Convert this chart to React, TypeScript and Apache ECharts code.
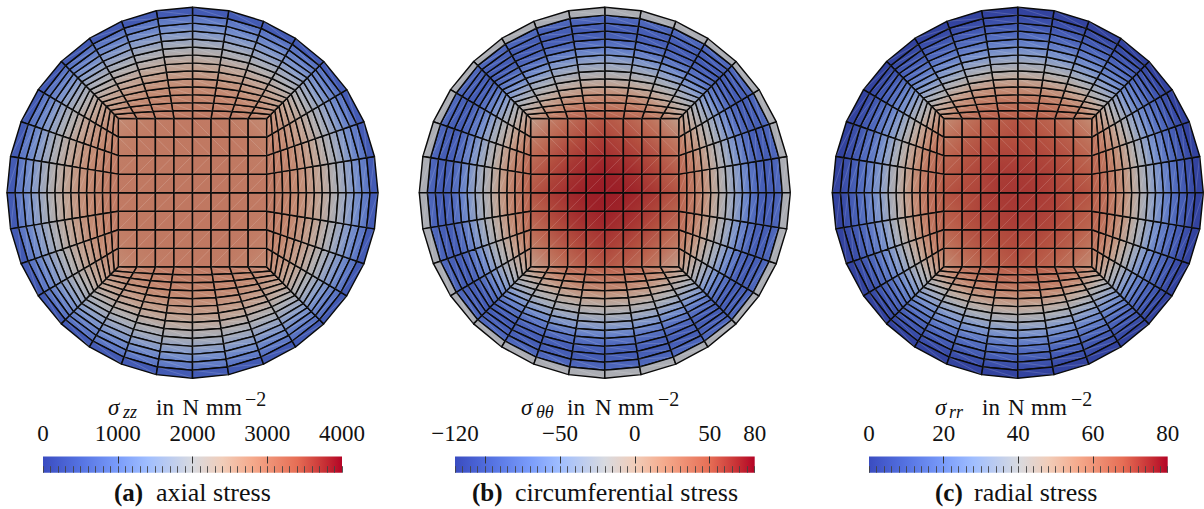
import React, { useEffect, useRef } from "react";
import * as echarts from "echarts";

// ---- colour bar stops (fraction, r, g, b), read from the legends
const colorStops = [
  [0, 58, 76, 192], [0.125, 85, 115, 226], [0.25, 122, 156, 250], [0.35, 160, 190, 255],
  [0.5, 216, 218, 224], [0.6, 241, 205, 185], [0.7, 245, 170, 140], [0.85, 230, 110, 85],
  [0.95, 196, 42, 50], [1, 180, 4, 38],
];

// ---- node values. Ring tables: one row per ring layer (square edge to next-to-rim),
// one column per node from the axis (0) to the diagonal (4). The picture has quarter symmetry.
const axialRing = [
  [2980, 2970, 2940, 2880, 2760], [2950, 2935, 2890, 2820, 2690], [2900, 2885, 2840, 2750, 2600],
  [2840, 2820, 2770, 2670, 2500], [2770, 2755, 2685, 2555, 2390], [2650, 2630, 2560, 2440, 2265],
  [2500, 2480, 2415, 2295, 2090], [2350, 2325, 2240, 2090, 1950], [2150, 2120, 2050, 1950, 1775],
  [1950, 1920, 1840, 1730, 1590], [1700, 1660, 1590, 1500, 1365], [1400, 1365, 1325, 1250, 1150],
  [1100, 1080, 1045, 985, 925], [850, 850, 825, 800, 765],
];
const axialRim = [470, 500];
const axialCentre = [[3010], [3010, 3005], [3000, 3000, 2995], [2990, 2990, 2985, 2965]];

const hoopRing = [
  [44, 42, 35, 25, 6], [36, 34, 28, 16, -3], [28, 26, 19, 4, -13], [18, 15, 6, -6, -22],
  [4, 2, -6, -17, -32], [-10, -12, -17, -28, -44], [-22, -24, -30, -41, -58], [-36, -39, -46, -58, -72],
  [-54, -56, -63, -72, -83], [-72, -74, -79, -86, -91], [-88, -89, -91, -94, -96], [-96, -96, -95, -94, -93],
  [-92, -92, -91, -90, -89], [-84, -84, -83, -83, -83],
];
const hoopRim = [-22, -20];
const hoopCentre = [[72], [71, 69], [65, 63, 58], [57, 55, 50, 38]];

const radialRing = [
  [67, 66, 64, 60, 55], [64, 63, 62, 58, 52], [62, 61, 59, 54, 47], [58, 57, 55, 51, 42],
  [54, 53, 51, 45, 37], [48, 47, 45, 41, 33], [42, 41, 40, 35, 29], [37, 36, 34, 29, 24],
  [30, 29, 27, 24, 20], [24, 23, 22, 19, 16], [18, 17, 16, 15, 12], [13, 12, 12, 11, 9],
  [8, 8, 7, 7, 6], [4, 4, 4, 3.5, 3],
];
const radialRim = [2.4, 1.6];
const radialCentre = [[73], [72.5, 72], [71, 71, 70], [70, 69, 68, 65]];

// ---- scales and tick labels of the three colour bars
const axialScale = [0, 4000];
const axialLabels = [0, 1000, 2000, 3000, 4000];
const axialMajor = [1000, 2000, 3000];
const axialMinorStep = 100;
const hoopScale = [-120, 80];
const hoopLabels = [-120, -50, 0, 50, 80];
const hoopMajor = [-100, -50, 0, 50];
const hoopMinorStep = 5;
const radialScale = [0, 80];
const radialLabels = [0, 20, 40, 60, 80];
const radialMajor = [20, 40, 60];
const radialMinorStep = 2;

// ---- texts
const symbols = ["σ", "σ", "σ"];
const subscripts = ["zz", "θθ", "rr"];
const captionTags = ["(a)", "(b)", "(c)"];
const captions = ["axial stress", "circumferential stress", "radial stress"];

// ---- mesh topology and layout
const CENTRE_DIV = 8, SECTORS = 32, LAYERS = 14, HALF = 0.4, R_PX = 185.5, SHADE = 0.8;
const SERIF = "'Liberation Serif', serif";

const panels = [
  { cx: 192.5, bar: [43, 342], ring: axialRing, rim: axialRim, centre: axialCentre, scale: axialScale, labels: axialLabels, major: axialMajor, step: axialMinorStep, t: [108, 123, 156, 182.5, 206, 245], cap: [114, 156] },
  { cx: 604.8, bar: [455, 754.7], ring: hoopRing, rim: hoopRim, centre: hoopCentre, scale: hoopScale, labels: hoopLabels, major: hoopMajor, step: hoopMinorStep, t: [521, 536, 567, 595, 618, 658], cap: [472, 515] },
  { cx: 1017.8, bar: [869, 1167.7], ring: radialRing, rim: radialRim, centre: radialCentre, scale: radialScale, labels: radialLabels, major: radialMajor, step: radialMinorStep, t: [935, 949, 982, 1008, 1031, 1071], cap: [935, 974] },
];
const CY = 192.7;

function colourAt(f: number, shade: number) {
  const x = Math.max(0, Math.min(1, f));
  let i = 0;
  while (i < colorStops.length - 2 && x > colorStops[i + 1][0]) i++;
  const a = colorStops[i], b = colorStops[i + 1];
  const u = (x - a[0]) / (b[0] - a[0]);
  const c = [1, 2, 3].map((n) => Math.round((a[n] + (b[n] - a[n]) * u) * shade));
  return `rgb(${c[0]},${c[1]},${c[2]})`;
}

function rimNode(s: number) {
  const a = (s * Math.PI * 2) / SECTORS;
  return [Math.cos(a), Math.sin(a)];
}
function edgeNode(s: number) {
  const m = ((s % SECTORS) + SECTORS) % SECTORS;
  const face = Math.floor((m + 4) / 8) % 4;
  const t = (((m + 4) % 8) - 4) / 4;
  if (face === 0) return [HALF, HALF * t];
  if (face === 1) return [-HALF * t, HALF];
  if (face === 2) return [-HALF, -HALF * t];
  return [HALF * t, -HALF];
}
function ringNode(k: number, s: number) {
  const p = edgeNode(s), q = rimNode(s), u = k / LAYERS;
  return [p[0] + (q[0] - p[0]) * u, p[1] + (q[1] - p[1]) * u];
}
function column(s: number) {
  const j = ((s % 8) + 8) % 8;
  return j > 4 ? 8 - j : j;
}

function meshSeries(panelIndex: number) {
  const p = panels[panelIndex];
  const f = (v: number) => (v - p.scale[0]) / (p.scale[1] - p.scale[0]);
  const data: number[][] = [];
  for (let i = 0; i < CENTRE_DIV; i++) for (let j = 0; j < CENTRE_DIV; j++) data.push([0, i, j]);
  for (let k = 0; k < LAYERS; k++) for (let s = 0; s < SECTORS; s++) data.push([1, k, s]);

  const centreValue = (i: number, j: number) => {
    const x = Math.abs(i - 4), y = Math.abs(j - 4);
    const a = Math.max(x, y), b = Math.min(x, y);
    return a === 4 ? p.ring[0][b] : p.centre[a][b];
  };

  return {
    type: "custom",
    xAxisIndex: panelIndex,
    yAxisIndex: panelIndex,
    coordinateSystem: "cartesian2d",
    silent: true,
    clip: false,
    progressive: 0,
    z: 3,
    data,
    renderItem: (_: any, api: any) => {
      const kind = api.value(0), a = api.value(1), b = api.value(2);
      let nodes: number[][];
      let g0: number[], g1: number[], v0: number, v1: number;
      if (kind === 0) {
        const unit = (2 * HALF) / CENTRE_DIV;
        const xy = (i: number, j: number) => api.coord([-HALF + i * unit, -HALF + j * unit]);
        nodes = [xy(a, b), xy(a + 1, b), xy(a + 1, b + 1), xy(a, b + 1)];
        const ids = [[a, b], [a + 1, b], [a + 1, b + 1], [a, b + 1]];
        const vals = ids.map((d) => centreValue(d[0], d[1]));
        const lo = vals.indexOf(Math.min(...vals)), hi = vals.indexOf(Math.max(...vals));
        g0 = nodes[lo]; g1 = nodes[hi]; v0 = vals[lo]; v1 = vals[hi];
        if (lo === hi) { g1 = nodes[(lo + 2) % 4]; v1 = v0; }
      } else {
        const xy = (k: number, s: number) => { const n = ringNode(k, s); return api.coord(n); };
        nodes = [xy(a, b), xy(a, b + 1), xy(a + 1, b + 1), xy(a + 1, b)];
        g0 = [(nodes[0][0] + nodes[1][0]) / 2, (nodes[0][1] + nodes[1][1]) / 2];
        g1 = [(nodes[2][0] + nodes[3][0]) / 2, (nodes[2][1] + nodes[3][1]) / 2];
        const row = (k: number, s: number) => p.ring[k][column(s)];
        if (a === LAYERS - 1) { v0 = p.rim[0]; v1 = p.rim[1]; }
        else {
          v0 = (row(a, b) + row(a, b + 1)) / 2;
          v1 = (row(a + 1, b) + row(a + 1, b + 1)) / 2;
        }
      }
      if (Math.abs(g0[0] - g1[0]) + Math.abs(g0[1] - g1[1]) < 0.01) g1 = [g0[0] + 1, g0[1] + 1];
      const upper = kind === 0 ? b >= 6 : false;
      const diag = upper ? [nodes[1], nodes[3]] : [nodes[0], nodes[2]];
      return {
        type: "group",
        children: [
          {
            type: "polygon",
            shape: { points: nodes },
            style: {
              fill: new echarts.graphic.LinearGradient(g0[0], g0[1], g1[0], g1[1], [
                { offset: 0, color: colourAt(f(v0), SHADE) },
                { offset: 1, color: colourAt(f(v1), SHADE) },
              ], true),
              stroke: "#0a0a0a",
              lineWidth: 1.45,
              lineJoin: "round",
            },
          },
          {
            type: "line",
            shape: { x1: diag[0][0], y1: diag[0][1], x2: diag[1][0], y2: diag[1][1] },
            style: { stroke: "rgba(255,255,255,0.22)", lineWidth: 0.7 },
          },
        ],
      };
    },
  };
}

function barSeries(panelIndex: number) {
  const p = panels[panelIndex];
  const stops = colorStops.map((c) => ({ offset: c[0], color: colourAt(c[0], 1) }));
  return {
    type: "custom",
    xAxisIndex: 3 + panelIndex * 2,
    yAxisIndex: 3 + panelIndex,
    coordinateSystem: "cartesian2d",
    silent: true,
    clip: false,
    z: 2,
    data: [[p.scale[0], 0, p.scale[1], 1]],
    renderItem: (_: any, api: any) => {
      const a = api.coord([api.value(0), api.value(1)]);
      const b = api.coord([api.value(2), api.value(3)]);
      return {
        type: "rect",
        shape: { x: a[0], y: b[1], width: b[0] - a[0], height: a[1] - b[1] },
        style: { fill: new echarts.graphic.LinearGradient(a[0], 0, b[0], 0, stops, true) },
      };
    },
  };
}

function buildOption() {
  const grid: any[] = [], xAxis: any[] = [], yAxis: any[] = [], series: any[] = [], graphic: any[] = [];
  panels.forEach((p, i) => {
    grid.push({ left: p.cx - R_PX, top: CY - R_PX, width: 2 * R_PX, height: 2 * R_PX });
    xAxis.push({ type: "value", gridIndex: i, min: -1, max: 1, show: false });
    yAxis.push({ type: "value", gridIndex: i, min: -1, max: 1, show: false });
    series.push(meshSeries(i));
  });
  panels.forEach((p, i) => {
    const gi = 3 + i;
    grid.push({ left: p.bar[0], top: 456.5, width: p.bar[1] - p.bar[0], height: 16.2 });
    const minors: number[] = [];
    for (let v = p.scale[0]; v <= p.scale[1]; v += p.step) minors.push(v);
    xAxis.push({
      type: "value", gridIndex: gi, min: p.scale[0], max: p.scale[1], position: "top", z: 5,
      axisLine: { show: false }, splitLine: { show: false },
      axisTick: { show: true, length: 6.5, customValues: minors, lineStyle: { color: "#444", width: 0.9 } },
      axisLabel: {
        show: true, customValues: p.labels, margin: 12, showMinLabel: true, showMaxLabel: true, hideOverlap: false,
        fontFamily: SERIF, fontSize: 23, color: "#111",
        formatter: (v: number) => (v < 0 ? "\u2212" + Math.abs(v) : String(v)),
      },
    });
    xAxis.push({
      type: "value", gridIndex: gi, min: p.scale[0], max: p.scale[1], position: "top", offset: 0, z: 5,
      axisLine: { show: false }, splitLine: { show: false }, axisLabel: { show: false },
      axisTick: { show: true, inside: true, length: 7, customValues: p.major, lineStyle: { color: "#333", width: 1 } },
    });
    yAxis.push({ type: "value", gridIndex: gi, min: 0, max: 1, show: false });
    series.push(barSeries(i));

    // y is the text's baseline: the box is middle-aligned, about 0.3em above the baseline
    const txt = (text: string, x: number, baseline: number, fontSize: number, extra: any = {}) => ({
      type: "text", x, y: baseline - fontSize * 0.3, silent: true,
      style: { text, x: 0, y: 0, fontFamily: SERIF, fontSize, fill: "#111", textAlign: "left", verticalAlign: "middle", ...extra },
    });
    graphic.push(txt(symbols[i], p.t[0], 414, 23, { fontStyle: "italic" }));
    graphic.push(txt(subscripts[i], p.t[1], 417.5, 18, { fontStyle: "italic" }));
    graphic.push(txt("in", p.t[2], 414, 23));
    graphic.push(txt("N", p.t[3], 414, 23));
    graphic.push(txt("mm", p.t[4], 414, 23));
    graphic.push(txt("\u22122", p.t[5], 405, 20));
    graphic.push(txt(captionTags[i], p.cap[0], 500, 25, { fontWeight: "bold" }));
    graphic.push(txt(captions[i], p.cap[1], 500, 26));
  });
  return { animation: false, backgroundColor: "#fff", grid, xAxis, yAxis, series, graphic };
}

export default function App() {
  const ref = useRef<HTMLDivElement>(null);
  useEffect(() => {
    document.body.style.margin = "0";
    const chart = echarts.init(ref.current!, null, { renderer: "svg" });
    chart.setOption(buildOption() as any);
    return () => chart.dispose();
  }, []);
  return <div ref={ref} style={{ width: 1204, height: 509 }} />;
}
